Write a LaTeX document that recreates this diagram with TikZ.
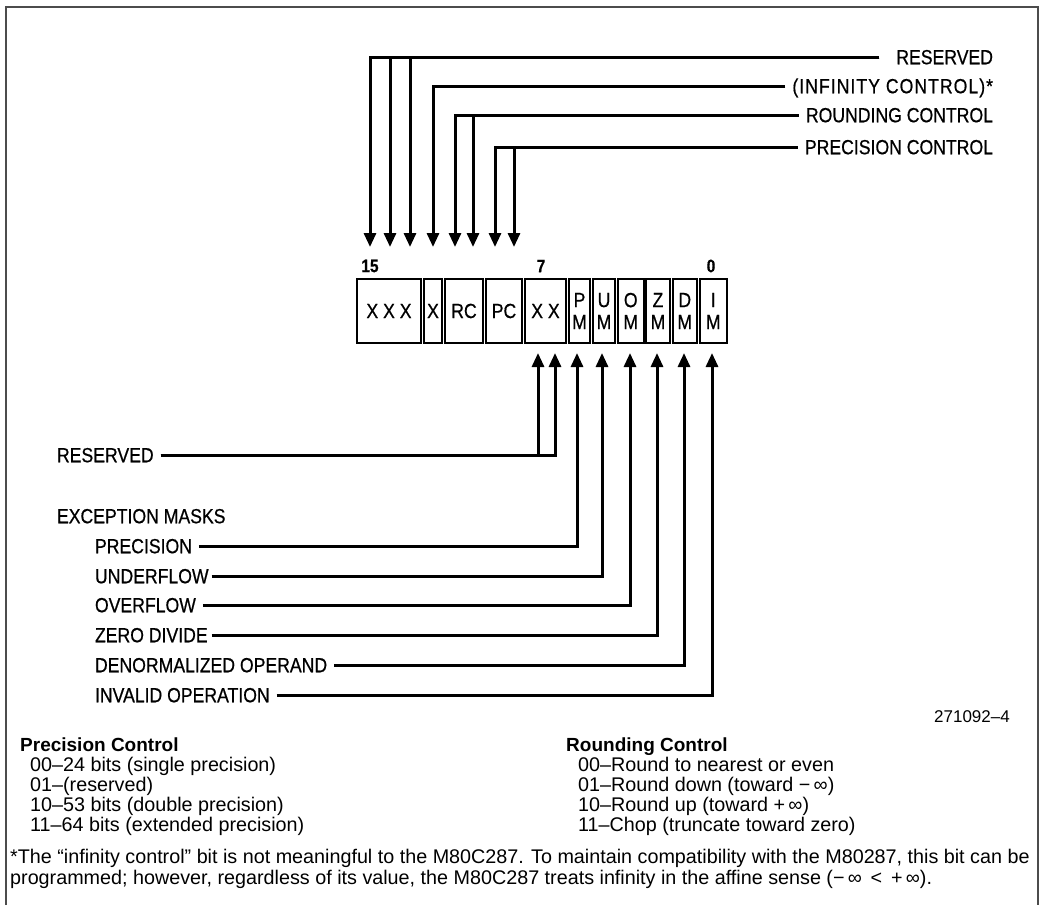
\documentclass[tikz,border=0pt]{standalone}
\usepackage{fontspec}
\usepackage{tikz}
\usetikzlibrary{arrows.meta}

\newfontfamily\plotfont[FakeStretch=0.86, FakeBold=0.6]{Liberation Sans}
\newfontfamily\notefont{Liberation Sans}

\tikzset{
  regcell/.style={draw, line width=2pt, inner sep=0pt, minimum height=64pt, align=center,
                  font=\plotfont\fontsize{20.5}{22}\selectfont},
  fieldlbl/.style={font=\plotfont\fontsize{20.5}{22}\selectfont, inner sep=0pt, outer sep=7pt,
                   text height=14.5pt, text depth=0pt},
  bitnum/.style={font=\plotfont\fontsize{18}{20}\selectfont\bfseries, inner sep=0pt},
  sig/.style={line width=3pt, -{Triangle[length=14pt, width=12pt]}},
  note/.style={anchor=base west, inner sep=0pt, font=\notefont\fontsize{19.75}{20}\selectfont},
  notehead/.style={note, font=\notefont\fontsize{19}{20}\selectfont\bfseries}
}

\begin{document}
\begin{tikzpicture}[x=1pt, y=-1pt] % one unit = one pixel of the sheet, y downwards
  \useasboundingbox (0,0) rectangle (1043,905);

  % 1. Sheet frame
  \draw[line width=2pt, draw=black!70] (6,905) -- (6,7) -- (1038,7) -- (1038,905);

  % 2. Control word fields
  \node[regcell, minimum width=64pt]   (f15) at (389,311)    {X X X};
  \node[regcell, minimum width=18pt]   (f12) at (433,311)    {X};
  \node[regcell, minimum width=38pt]   (frc) at (464,311)    {RC};
  \node[regcell, minimum width=36pt]   (fpc) at (504,311)    {PC};
  \node[regcell, minimum width=41pt]   (f7)  at (545.5,311)  {X X};
  \node[regcell, minimum width=21pt]   (fpm) at (579.5,311)  {P\\M};
  \node[regcell, minimum width=22pt]   (fum) at (604,311)    {U\\M};
  \node[regcell, minimum width=25.5pt] (fom) at (630.75,311) {O\\M};
  \node[regcell, minimum width=24pt]   (fzm) at (658,311)    {Z\\M};
  \node[regcell, minimum width=24.5pt] (fdm) at (684.75,311) {D\\M};
  \node[regcell, minimum width=27.5pt] (fim) at (713.25,311) {I\\M};

  \node[bitnum] (n15) at (370,266) {15};
  \node[bitnum] (n7)  at (541,266) {7};
  \node[bitnum] (n0)  at (711,266) {0};

  % 3. Arrow tips above and below the word
  \coordinate (b15) at (370,247);
  \coordinate (b14) at (390,247);
  \coordinate (b13) at (410,247);
  \coordinate (b12) at (433,247);
  \coordinate (b11) at (455,247);
  \coordinate (b10) at (473,247);
  \coordinate (b9)  at (495,247);
  \coordinate (b8)  at (514,247);
  \coordinate (b7)  at (538,353);
  \coordinate (b6)  at (555,353);
  \coordinate (b5)  at (577,353);
  \coordinate (b4)  at (602,353);
  \coordinate (b3)  at (630,353);
  \coordinate (b2)  at (657,353);
  \coordinate (b1)  at (684,353);
  \coordinate (b0)  at (712,353);

  % 4. Upper labels
  \node[fieldlbl, anchor=east] (lresvt) at (1000,57)  {RESERVED};
  \node[fieldlbl, anchor=east] (linf)   at (1000,86)  {\addfontfeature{LetterSpace=5}(INFINITY CONTROL)*};
  \node[fieldlbl, anchor=east] (lrc)    at (1000,115) {ROUNDING CONTROL};
  \node[fieldlbl, anchor=east] (lpc)    at (1000,147) {PRECISION CONTROL};

  \draw[sig, shorten <=10pt] (lresvt.west) -| (b15);
  \draw[sig, shorten <=10pt] (lresvt.west) -| (b14);
  \draw[sig, shorten <=10pt] (lresvt.west) -| (b13);
  \draw[sig] (linf.west) -| (b12);
  \draw[sig] (lrc.west) -| (b11);
  \draw[sig] (lrc.west) -| (b10);
  \draw[sig] (lpc.west) -| (b9);
  \draw[sig] (lpc.west) -| (b8);

  % 5. Lower labels
  \node[fieldlbl, anchor=west] (lresvb) at (50,455) {RESERVED};
  \node[fieldlbl, anchor=west] (lexc)   at (50,516) {EXCEPTION MASKS};
  \node[fieldlbl, anchor=west] (lpm)    at (88,546) {PRECISION};
  \node[fieldlbl, anchor=west, outer sep=3pt] (lum) at (92,576) {UNDERFLOW};
  \node[fieldlbl, anchor=west] (lom)    at (88,605) {OVERFLOW};
  \node[fieldlbl, anchor=west, outer sep=4pt] (lzm) at (91,635) {ZERO DIVIDE};
  \node[fieldlbl, anchor=west] (ldm)    at (88,665) {DENORMALIZED OPERAND};
  \node[fieldlbl, anchor=west] (lim)    at (88,695) {INVALID OPERATION};

  \draw[sig] (lresvb.east) -| (b7);
  \draw[sig] (lresvb.east) -| (b6);
  \draw[sig] (lpm.east) -| (b5);
  \draw[sig] (lum.east) -| (b4);
  \draw[sig] (lom.east) -| (b3);
  \draw[sig] (lzm.east) -| (b2);
  \draw[sig] (ldm.east) -| (b1);
  \draw[sig] (lim.east) -| (b0);

  % 6. Figure number and notes
  \node[note, anchor=base east, font=\notefont\fontsize{17}{18}\selectfont] (fignum) at (1010,722) {271092–4};

  \node[notehead] (pchead) at (20,751) {Precision Control};
  \node[note] (pc0) at (30,771) {00–24 bits (single precision)};
  \node[note] (pc1) at (30,791) {01–(reserved)};
  \node[note] (pc2) at (30,811) {10–53 bits (double precision)};
  \node[note] (pc3) at (30,831) {11–64 bits (extended precision)};

  \node[notehead] (rchead) at (566,751) {Rounding Control};
  \node[note] (rc0) at (578,771) {00–Round to nearest or even};
  \node[note] (rc1) at (578,791) {01–Round down (toward −\,∞)};
  \node[note] (rc2) at (578,811) {10–Round up (toward +\,∞)};
  \node[note] (rc3) at (578,831) {11–Chop (truncate toward zero)};

  \node[note] (fn1) at (10,863) {*The “infinity control” bit is not meaningful to the M80C287. To maintain compatibility with the M80287, this bit can be};
  \node[note] (fn2) at (10,884) {programmed; however, regardless of its value, the M80C287 treats infinity in the affine sense (−\,∞ \,<\, +\,∞).};
\end{tikzpicture}
\end{document}
